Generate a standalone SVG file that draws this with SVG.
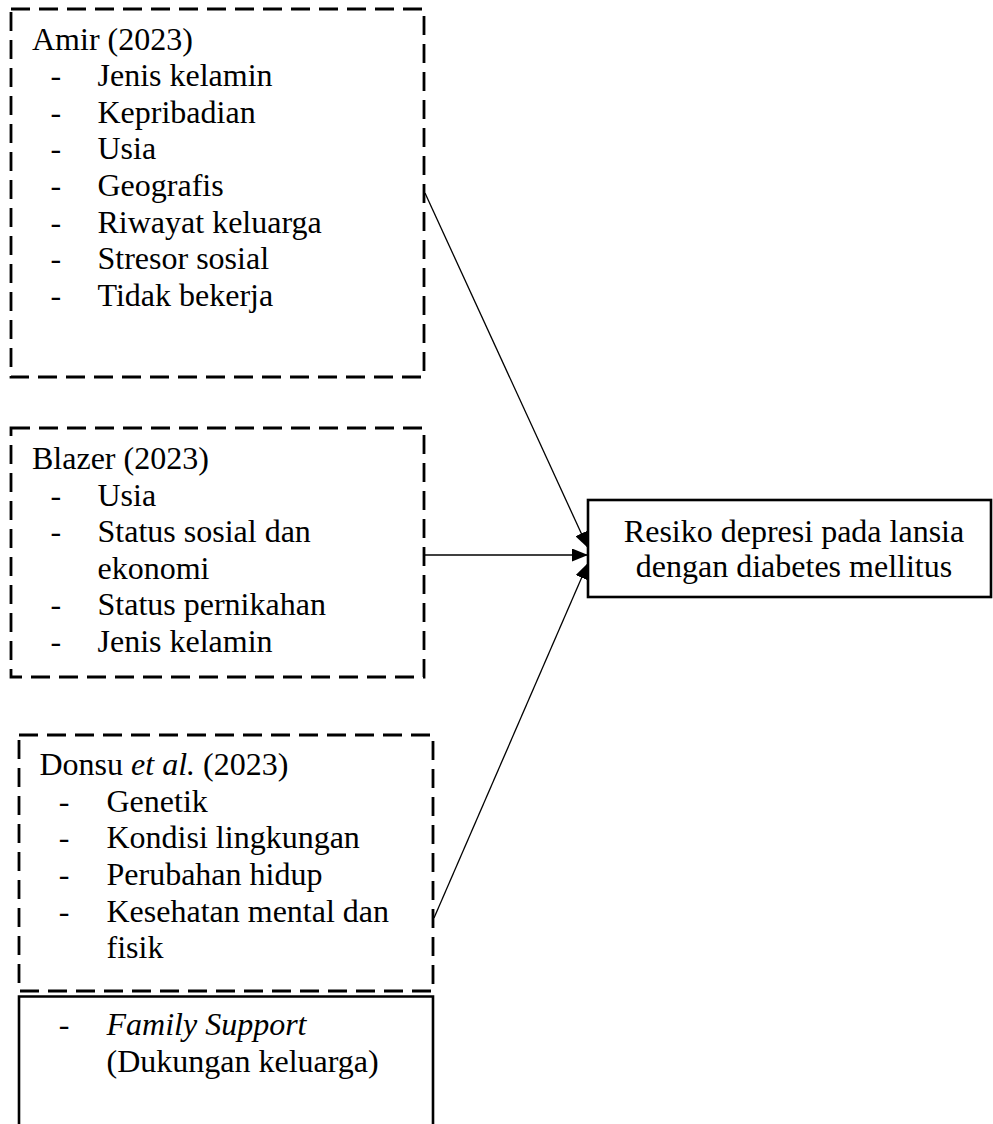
<svg xmlns="http://www.w3.org/2000/svg" width="993" height="1124" viewBox="0 0 993 1124">
<style>
text{font-family:"Liberation Serif","Times New Roman",serif;font-size:32px;fill:#000}
.dash{fill:none;stroke:#000;stroke-width:2.8;stroke-dasharray:19 9}
.solid{fill:none;stroke:#000;stroke-width:2.6}
.conn{fill:none;stroke:#000;stroke-width:1.3}
.c{text-anchor:middle}
</style>
<defs>
<marker id="arr" markerUnits="userSpaceOnUse" markerWidth="17" markerHeight="13" refX="16" refY="6.5" orient="auto">
<path d="M0,0 L16,6.5 L0,13 Z" fill="#000"/>
</marker>
</defs>
<rect width="993" height="1124" fill="#fff"/>
<g id="amir">
<rect class="dash" x="11" y="9" width="413" height="368"/>
<text x="32" y="49.5">Amir (2023)</text>
<text x="50.4" y="86.1">-</text><text x="97.5" y="86.1">Jenis kelamin</text>
<text x="50.4" y="122.8">-</text><text x="97.5" y="122.8">Kepribadian</text>
<text x="50.4" y="159.4">-</text><text x="97.5" y="159.4">Usia</text>
<text x="50.4" y="196.1">-</text><text x="97.5" y="196.1">Geografis</text>
<text x="50.4" y="232.7">-</text><text x="97.5" y="232.7">Riwayat keluarga</text>
<text x="50.4" y="269.4">-</text><text x="97.5" y="269.4">Stresor sosial</text>
<text x="50.4" y="306">-</text><text x="97.5" y="306">Tidak bekerja</text>
</g>
<g id="blazer">
<rect class="dash" x="11" y="428" width="413" height="249"/>
<text x="32" y="469.3">Blazer (2023)</text>
<text x="50.4" y="505.8">-</text><text x="97.5" y="505.8">Usia</text>
<text x="50.4" y="542.3">-</text><text x="97.5" y="542.3">Status sosial dan</text>
<text x="97.5" y="578.8">ekonomi</text>
<text x="50.4" y="615.3">-</text><text x="97.5" y="615.3">Status pernikahan</text>
<text x="50.4" y="651.8">-</text><text x="97.5" y="651.8">Jenis kelamin</text>
</g>
<g id="donsu">
<rect class="dash" x="19" y="735" width="414" height="256"/>
<text x="39.5" y="775">Donsu <tspan font-style="italic">et al.</tspan> (2023)</text>
<text x="58.7" y="811.7">-</text><text x="106.5" y="811.7">Genetik</text>
<text x="58.7" y="848.3">-</text><text x="106.5" y="848.3">Kondisi lingkungan</text>
<text x="58.7" y="885">-</text><text x="106.5" y="885">Perubahan hidup</text>
<text x="58.7" y="921.7">-</text><text x="106.5" y="921.7">Kesehatan mental dan</text>
<text x="106.5" y="958.3">fisik</text>
</g>
<g id="family">
<path class="solid" d="M19,1130 V996.5 H433 V1130"/>
<text x="58.7" y="1035">-</text><text x="106.5" y="1035" font-style="italic">Family Support</text>
<text x="106.5" y="1071.7">(Dukungan keluarga)</text>
</g>
<g id="result">
<rect class="solid" x="588" y="500" width="403" height="97"/>
<text class="c" x="794" y="541.5">Resiko depresi pada lansia</text>
<text class="c" x="794" y="577">dengan diabetes mellitus</text>
</g>
<g id="connectors">
<line class="conn" x1="425" y1="193" x2="588" y2="548" marker-end="url(#arr)"/>
<line class="conn" x1="425" y1="555" x2="588" y2="555" marker-end="url(#arr)"/>
<line class="conn" x1="434" y1="918" x2="588" y2="563" marker-end="url(#arr)"/>
</g>
</svg>
